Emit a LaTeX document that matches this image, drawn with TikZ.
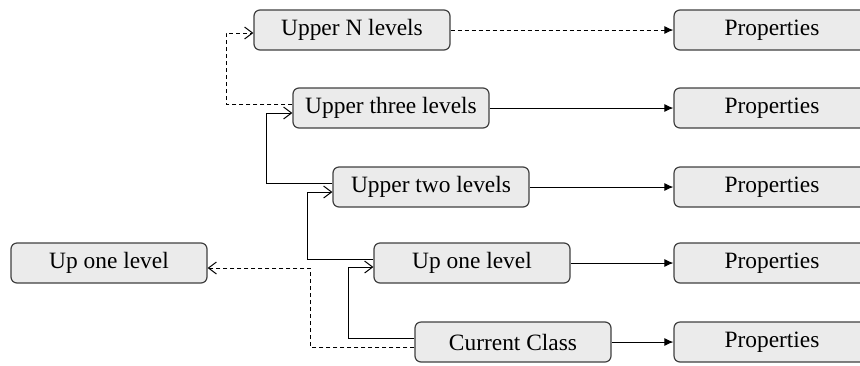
\documentclass[tikz,border=0pt]{standalone}
\usepackage{fontspec}
\setmainfont{Liberation Serif}
\usetikzlibrary{arrows.meta}
\definecolor{boxfill}{HTML}{EBEBEB}
\definecolor{boxline}{HTML}{404040}
\tikzset{
	level/.style={draw=boxline, fill=boxfill, rounded corners=3pt, line width=0.6pt,
		minimum width=98pt, minimum height=20pt, inner sep=0pt,
		font=\fontsize{11.7}{14}\selectfont},
	link/.style={line width=0.5pt, -{Straight Barb[length=4pt,width=6pt]}},
	prop/.style={line width=0.5pt, -{Latex[length=4.5pt,width=4pt]}},
	dashy/.style={dash pattern=on 2pt off 1.5pt}
}
\begin{document}
\begin{tikzpicture}[x=0.5pt, y=-0.5pt]
			%%%%% START %%%%%
			\useasboundingbox (0, 0) rectangle (860, 365);
			
			\node[level] (upn) at (352, 30) {Upper N levels};
			\node[level] (upthree) at (391, 108) {Upper three levels};
			\node[level] (uptwo) at (431, 187) {Upper two levels};
			\node[level] (upone) at (472, 263) {Up one level};
			\node[level] (current) at (513, 342) {Current Class};
			\node[level] (oneleft) at (109, 263) {Up one level};
			
			\foreach \n/\y in {1/30, 2/108, 3/187, 4/263, 5/342}
				\node[level] (prop\n) at (772, \y) {Properties};
			
			% to the properties
			\draw[prop, dashy] (upn) -- (prop1);
			\draw[prop] (upthree) -- (prop2);
			\draw[prop] (uptwo) -- (prop3);
			\draw[prop] (upone) -- (prop4);
			\draw[prop] (current) -- (prop5);
			
			% up the levels
			\draw[link] ([yshift=2pt]current.west) -- ++(-66, 0) |- ([yshift=-2pt]upone.west);
			\draw[link] ([yshift=2pt]upone.west) -- ++(-66, 0) |- ([yshift=-2.5pt]uptwo.west);
			\draw[link] ([yshift=2pt]uptwo.west) -- ++(-66, 0) |- ([yshift=-2.5pt]upthree.west);
			\draw[link, dashy] ([yshift=2pt]upthree.west) -- ++(-66, 0) |- ([yshift=-1.5pt]upn.west);
			\draw[link, dashy] ([yshift=-2.5pt]current.west) -- ++(-104, 0) |- ([yshift=-2.5pt]oneleft.east);
			
			%%%%% END %%%%%
\end{tikzpicture}
\end{document}
